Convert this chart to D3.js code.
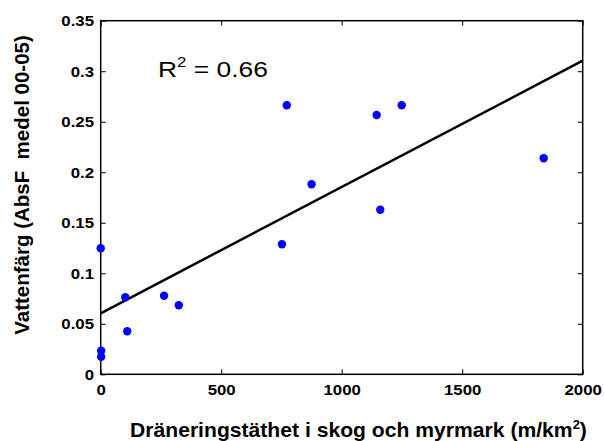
<!DOCTYPE html>
<html><head><meta charset="utf-8">
<script src="https://cdn.jsdelivr.net/npm/d3@7/dist/d3.min.js"></script>
<style>body{margin:0;background:#fff}svg{display:block}text{font-family:"Liberation Sans",Arial,sans-serif}</style>
</head><body><svg id="c" width="604" height="441"></svg>
<script>
const xValues = [0, 2, 2, 102, 110, 263, 324, 752, 772, 875, 1145, 1160, 1249, 1838];
const yValues = [0.1247, 0.0234, 0.0174, 0.0762, 0.0426, 0.0778, 0.0683, 0.1287, 0.2663, 0.1881, 0.2567, 0.1629, 0.2663, 0.2138];
const fitX = [0, 2000];
const fitY = [0.0604, 0.3104];
const xTicks = [0, 500, 1000, 1500, 2000];
const yTicks = [0, 0.05, 0.1, 0.15, 0.2, 0.25, 0.3, 0.35];
const yTickLabels = ["0", "0.05", "0.1", "0.15", "0.2", "0.25", "0.3", "0.35"];

const svg = d3.select("#c");
const L = 100.7, R = 582.7, T = 20.7, B = 374.3;
const x = d3.scaleLinear().domain([0, 2000]).range([L, R]);
const y = d3.scaleLinear().domain([0, 0.35]).range([B, T]);
const K = 1.2; // horizontal stretch of the reference text

// box
svg.append("rect").attr("x", L).attr("y", T).attr("width", R - L).attr("height", B - T)
  .attr("fill", "none").attr("stroke", "#000").attr("stroke-width", 1.5);

const tl = 5;
const fontTick = "bold 14px 'Liberation Sans', Arial, sans-serif";
const xb = svg.append("g").attr("transform", `translate(0,${B})`)
  .call(d3.axisBottom(x).tickValues(xTicks).tickSize(-tl).tickFormat(d3.format("d")));
const xt = svg.append("g").attr("transform", `translate(0,${T})`)
  .call(d3.axisTop(x).tickValues(xTicks).tickSize(-tl).tickFormat(""));
const yl = svg.append("g").attr("transform", `translate(${L},0)`)
  .call(d3.axisLeft(y).tickValues(yTicks).tickSize(-tl).tickFormat((d, i) => yTickLabels[i]));
const yr = svg.append("g").attr("transform", `translate(${R},0)`)
  .call(d3.axisRight(y).tickValues(yTicks).tickSize(-tl).tickFormat(""));
[xb, xt, yl, yr].forEach(g => {
  g.select(".domain").remove();
  g.selectAll(".tick line").attr("stroke", "#000").attr("stroke-width", 1);
  g.selectAll("text").style("font", fontTick).attr("fill", "#000");
});
xb.selectAll("text").attr("y", 395 - B).attr("dy", 0).attr("x", 0).attr("transform", `scale(${K},1)`);
yl.selectAll("text").attr("x", -6.7 / K).attr("dy", "0.36em").attr("transform", `scale(${K},1)`);

// fit line
svg.append("path").datum(fitX.map((d, i) => [d, fitY[i]]))
  .attr("d", d3.line().x(d => x(d[0])).y(d => y(d[1])))
  .attr("fill", "none").attr("stroke", "#000").attr("stroke-width", 2.5);

// points
svg.append("g").selectAll("circle").data(xValues.map((d, i) => [d, yValues[i]])).join("circle")
  .attr("cx", d => x(d[0])).attr("cy", d => y(d[1])).attr("r", 4.2).attr("fill", "#0000ff");

function fitWidth(g, text, targetLeft, targetWidth) {
  const w = text.node().getBBox().width;
  const k = targetWidth / w;
  g.attr("transform", `translate(${targetLeft},${g.attr("data-y")}) scale(${k},1)`);
}

// R2 annotation
const gr = svg.append("g").attr("data-y", 76.7);
const r2 = gr.append("text").attr("x", 0).attr("y", 0).style("font-size", "22px").attr("fill", "#000");
r2.append("tspan").text("R");
r2.append("tspan").attr("dy", -10).style("font-size", "14px").text("2");
r2.append("tspan").attr("dy", 10).text(" = 0.66");
fitWidth(gr, r2, 158, 110);

// x label
const gx = svg.append("g").attr("data-y", 437);
const xl = gx.append("text").attr("x", 0).attr("y", 0)
  .style("font", "bold 19.5px 'Liberation Sans', Arial, sans-serif").attr("fill", "#000");
xl.append("tspan").text("Dräneringstäthet i skog och myrmark (m/km");
xl.append("tspan").attr("dy", -8).style("font-size", "12px").text("2");
xl.append("tspan").attr("dy", 8).text(")");
fitWidth(gx, xl, 130, 457);

// y label
svg.append("text").attr("transform", "translate(29,185) rotate(-90)").attr("text-anchor", "middle")
  .style("font", "bold 20.5px 'Liberation Sans', Arial, sans-serif").attr("fill", "#000")
  .style("white-space", "pre")
  .text("Vattenfärg (AbsF  medel 00-05)");
</script></body></html>
